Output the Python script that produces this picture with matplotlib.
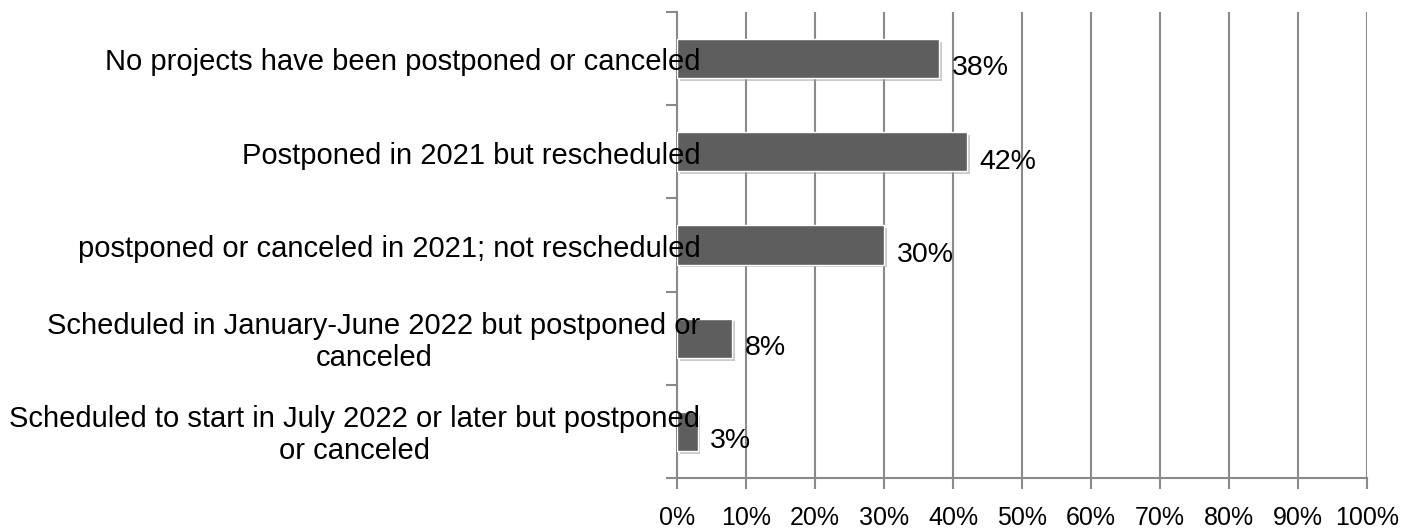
import matplotlib
matplotlib.use('Agg')
import numpy as np
from matplotlib import pyplot as plt
from matplotlib import patheffects as pe
from matplotlib.ticker import FixedLocator

categories = ['No projects have been postponed or canceled',
              'Postponed in 2021 but rescheduled',
              'postponed or canceled in 2021; not rescheduled',
              'Scheduled in January-June 2022 but postponed or\ncanceled',
              'Scheduled to start in July 2022 or later but postponed\nor canceled']
values = [38, 42, 30, 8, 3]
xticks = [0, 10, 20, 30, 40, 50, 60, 70, 80, 90, 100]

plt.rcParams['font.family'] = ['Liberation Sans', 'DejaVu Sans']
grey = '#8a8a8a'

fig = plt.figure(figsize=(14.26, 5.31), dpi=100)
ax = fig.add_axes([677/1426, 53/531, 690/1426, 466/531])

y = np.arange(len(categories))
bars = ax.barh(y, values, height=0.42, color='#5e5e5e', edgecolor='white', linewidth=1, zorder=3)
for b in bars:
    b.set_path_effects([pe.SimplePatchShadow(offset=(2, -2), shadow_rgbFace='#999999', alpha=0.5), pe.Normal()])

for yi, v in zip(y, values):
    ax.annotate('%d%%' % v, (v, yi), xytext=(9, -7), textcoords='offset points',
                ha='left', va='center', fontsize=20.5, color='black', zorder=4)

# category labels drawn as text so they sit on top of the bars
for yi, c in zip(y, categories):
    ax.text(3.4, yi + 0.04, c, ha='right', va='center', multialignment='center',
            fontsize=21, color='black', zorder=5, clip_on=False)

ax.set_xlim(0, 100)
ax.set_ylim(len(categories) - 0.5, -0.5)
ax.set_xticks(xticks)
ax.set_xticklabels(['%d%%' % t for t in xticks], fontsize=18)
ax.xaxis.grid(True, color=grey, linewidth=1.5, zorder=0)
ax.set_axisbelow(True)

ax.set_yticks([])
ax.yaxis.set_minor_locator(FixedLocator(np.arange(-0.5, len(categories), 1)))
ax.tick_params(axis='y', which='minor', length=8, width=1.5, color=grey)
ax.tick_params(axis='x', length=8, width=1.5, color=grey, pad=12)

for s in ['top', 'right']:
    ax.spines[s].set_visible(False)
for s in ['left', 'bottom']:
    ax.spines[s].set_color(grey)
    ax.spines[s].set_linewidth(1.5)

fig.savefig('out.png', dpi=100)
